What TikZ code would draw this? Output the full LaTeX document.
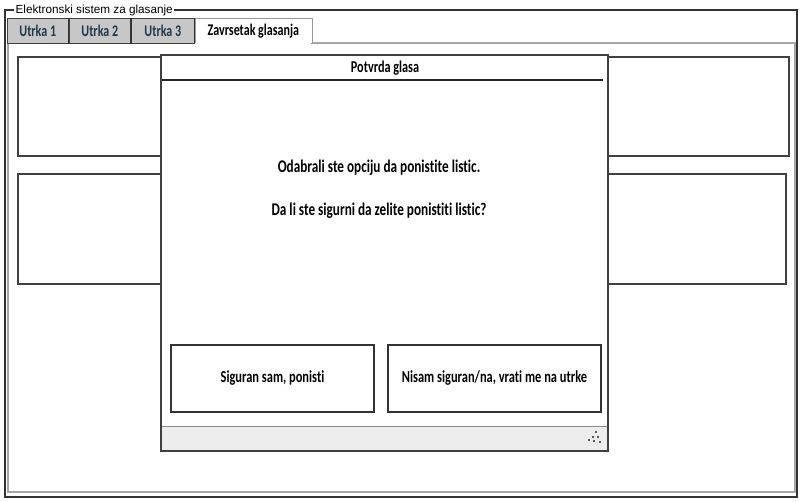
\documentclass[tikz,border=0pt]{standalone}
\usepackage{fontspec}
\setmainfont{Carlito}
\setsansfont{Liberation Sans}
\newfontfamily\mockfont[FakeStretch=0.74, Ligatures=NoCommon]{Carlito}
\definecolor{tabtext}{RGB}{30,58,72}
\usetikzlibrary{positioning}

\begin{document}
\begin{tikzpicture}[
    x=0.75pt, y=-0.75pt,
    frame/.style={draw=black!80, line width=1.5pt},
    panel/.style={draw=black!35, line width=1.2pt},
    tab/.style={draw=black!75, fill=black!22, text=tabtext, inner sep=0pt,
        minimum height=18.75pt, anchor=north west, font=\mockfont\bfseries\fontsize{12.2}{14}\selectfont},
    card/.style={draw=black!75, line width=1pt, fill=white},
    btn/.style={draw=black!80, line width=1pt, fill=white, inner sep=0pt,
        minimum height=50.25pt, font=\mockfont\bfseries\fontsize{12.6}{14}\selectfont},
    msg/.style={font=\mockfont\bfseries\fontsize{13.4}{15}\selectfont, inner sep=0pt}
]
    \useasboundingbox (0,0) rectangle (802,501);

    % Outer group frame with caption
    \node[anchor=west, inner sep=1pt, font=\sffamily\fontsize{8.8}{10}\selectfont] (caption) at (14,10) {Elektronski sistem za glasanje};
    \draw[frame] (caption.west) -| (5,497) -| (797,10) -- (caption.east);

    % Tab panel
    \draw[panel] (8,43) rectangle (795,492);

    % Tabs
    \node[tab, minimum width=45.75pt] (tab1) at (7,18) {Utrka 1};
    \node[tab, minimum width=46.5pt, right=0pt of tab1.north east, anchor=north west] (tab2) {Utrka 2};
    \node[tab, minimum width=47.25pt, right=0pt of tab2.north east, anchor=north west] (tab3) {Utrka 3};
    \node[tab, minimum width=87.75pt, fill=white, draw=black!40, text=black, right=0pt of tab3.north east, anchor=north west] (tab4) {Zavrsetak glasanja};
    \draw[white, line width=1.5pt] ([xshift=0.6pt]tab4.south west) -- ([xshift=-0.6pt]tab4.south east);
    \foreach \t in {tab1, tab2, tab3}
        \draw[black!80, line width=1.3pt] (\t.north east) -- (\t.south east);

    % Cards behind the dialog
    \draw[card] (18,57) rectangle (789,156);
    \draw[card] (18,174) rectangle (786,284);

    % Dialog
    \draw[black!75, line width=1pt, fill=white] (161,55) rectangle (608,451);
    \node[msg, font=\mockfont\bfseries\fontsize{12.4}{14}\selectfont] (title) at (385,68) {Potvrda glasa};
    \draw[black!85, line width=1.5pt] (162,80) -- (603,80);
    \node[msg] (line1) at (379,168) {Odabrali ste opciju da ponistite listic.};
    \node[msg] (line2) at (379,211) {Da li ste sigurni da zelite ponistiti listic?};

    % Buttons
    \node[btn, minimum width=152.25pt] (yes) at (272.5,378.5) {Siguran sam, ponisti};
    \node[btn, minimum width=159.75pt] (no) at (494.5,378.5) {Nisam siguran/na, vrati me na utrke};

    % Footer bar with grip
    \draw[black!45, fill=black!7] (161,426) rectangle (608,451);
    \draw[black!75, line width=1pt] (161,55) rectangle (608,451);
    \foreach \gx/\gy in {596/432, 593/437, 598/437, 589/440, 594/441, 600/442}
        \fill[black!85] (\gx,\gy) circle (0.8pt);
\end{tikzpicture}
\end{document}
